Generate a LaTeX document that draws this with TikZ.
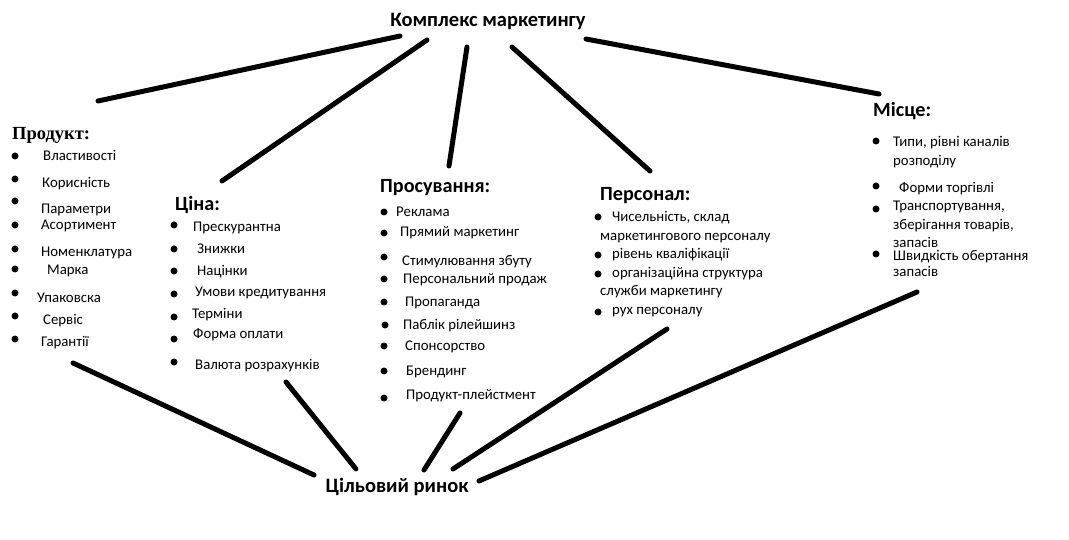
\documentclass[tikz,border=0pt]{standalone}
\usepackage{fontspec}
\setmainfont{Carlito}
\newfontfamily\timesbold{Liberation Serif}[BoldFont={Liberation Serif Bold}]
\usepackage{tikz}
\usetikzlibrary{positioning}

\begin{document}
\begin{tikzpicture}[x=1pt, y=-1pt,
  title/.style={font=\fontsize{20.5}{24}\selectfont\bfseries, inner sep=0, text height=14pt, text depth=5pt},
  head/.style={anchor=west, font=\fontsize{20.2}{24}\selectfont\bfseries, inner sep=0, text height=14pt, text depth=5pt},
  item/.style={anchor=west, font=\fontsize{14.8}{18}\selectfont, inner sep=0, text height=10pt, text depth=3pt},
  dot/.style={circle, fill=black, inner sep=0, minimum size=7pt},
  link/.style={line width=5pt, line cap=round}
]
\useasboundingbox (0,0) rectangle (1069,540);

\node[title] (mix) at (488,22) {Комплекс маркетингу};
\node[title] (market) at (397,488) {Цільовий ринок};

% Продукт
\node[head, font=\timesbold\fontsize{18.5}{22}\selectfont\bfseries] (prod) at (12,135) {Продукт:};
\node[dot] (pd1) at (15,156) {};
\node[item] (p1) at (43,157) {Властивості};
\node[dot] (pd2) at (15,179) {};
\node[item] (p2) at (42,184) {Корисність};
\node[dot] (pd3) at (15,201) {};
\node[item] (p3) at (41,210) {Параметри};
\node[dot] (pd4) at (15,225) {};
\node[item] (p4) at (41,226) {Асортимент};
\node[dot] (pd5) at (15,249) {};
\node[item] (p5) at (41,253) {Номенклатура};
\node[dot] (pd6) at (15,269) {};
\node[item] (p6) at (47,271) {Марка};
\node[dot] (pd7) at (15,293) {};
\node[item] (p7) at (37,299) {Упаковска};
\node[dot] (pd8) at (15,316) {};
\node[item] (p8) at (43,321) {Сервіс};
\node[dot] (pd9) at (15,339) {};
\node[item] (p9) at (41,343) {Гарантії};

% Ціна
\node[head] (price) at (175,206) {Ціна:};
\node[dot] (cd1) at (174,225) {};
\node[item] (c1) at (193,228) {Прескурантна};
\node[dot] (cd2) at (174,249) {};
\node[item] (c2) at (197,250) {Знижки};
\node[dot] (cd3) at (174,271) {};
\node[item] (c3) at (197,272) {Націнки};
\node[dot] (cd4) at (174,294) {};
\node[item] (c4) at (195,293) {Умови кредитування};
\node[dot] (cd5) at (174,317) {};
\node[item] (c5) at (192,315) {Терміни};
\node[dot] (cd6) at (174,339) {};
\node[item] (c6) at (193,335) {Форма оплати};
\node[dot] (cd7) at (174,362) {};
\node[item] (c7) at (195,366) {Валюта розрахунків};

% Просування
\node[head] (promo) at (380,188) {Просування:};
\node[dot] (sd1) at (384,212) {};
\node[item] (s1) at (396,213) {Реклама};
\node[dot] (sd2) at (384,233) {};
\node[item] (s2) at (400,233) {Прямий маркетинг};
\node[dot] (sd3) at (384,257) {};
\node[item] (s3) at (402,262) {Стимулювання збуту};
\node[dot] (sd4) at (384,279) {};
\node[item] (s4) at (403,280) {Персональний продаж};
\node[dot] (sd5) at (384,302) {};
\node[item] (s5) at (405,303) {Пропаганда};
\node[dot] (sd6) at (385,325) {};
\node[item] (s6) at (403,326) {Паблік рілейшинз};
\node[dot] (sd7) at (384,346) {};
\node[item] (s7) at (405,347) {Спонсорство};
\node[dot] (sd8) at (384,371) {};
\node[item] (s8) at (406,372) {Брендинг};
\node[dot] (sd9) at (384,398) {};
\node[item] (s9) at (406,396) {Продукт-плейстмент};

% Персонал
\node[head] (staff) at (600,196) {Персонал:};
\node[dot] (rd1) at (598,217) {};
\node[item] (r1) at (612,218) {Чисельність, склад};
\node[item] (r1b) at (600,237) {маркетингового персоналу};
\node[dot] (rd2) at (598,255) {};
\node[item] (r2) at (612,255) {рівень кваліфікації};
\node[dot] (rd3) at (598,274) {};
\node[item] (r3) at (612,274) {організаційна структура};
\node[item] (r3b) at (600,292) {служби маркетингу};
\node[dot] (rd4) at (598,312) {};
\node[item] (r4) at (612,311) {рух персоналу};

% Місце
\node[head] (place) at (873,112) {Місце:};
\node[dot] (md1) at (876,141) {};
\node[item] (m1) at (893,143) {Типи, рівні каналів};
\node[item] (m1b) at (893,162) {розподілу};
\node[dot] (md2) at (876,186) {};
\node[item] (m2) at (899,189) {Форми торгівлі};
\node[dot] (md3) at (876,209) {};
\node[item] (m3) at (893,207) {Транспортування,};
\node[item] (m3b) at (893,226) {зберігання товарів,};
\node[item] (m3c) at (893,244) {запасів};
\node[dot] (md4) at (876,254) {};
\node[item] (m4) at (893,257) {Швидкість обертання};
\node[item] (m4b) at (893,273) {запасів};

\coordinate (t1) at (400,36);  \coordinate (h1) at (98,101);
\coordinate (t2) at (427,40);  \coordinate (h2) at (222,181);
\coordinate (t3) at (467,47);  \coordinate (h3) at (449,166);
\coordinate (t4) at (512,47);  \coordinate (h4) at (650,171);
\coordinate (t5) at (586,39);  \coordinate (h5) at (879,94);
\coordinate (f1) at (73,363);  \coordinate (b1) at (314,475);
\coordinate (f2) at (286,382); \coordinate (b2) at (356,469);
\coordinate (f3) at (460,413); \coordinate (b3) at (424,470);
\coordinate (f4) at (667,329); \coordinate (b4) at (453,469);
\coordinate (f5) at (917,292); \coordinate (b5) at (479,481);

\draw[link] (t1) -- (h1);
\draw[link] (t2) -- (h2);
\draw[link] (t3) -- (h3);
\draw[link] (t4) -- (h4);
\draw[link] (t5) -- (h5);
\draw[link] (f1) -- (b1);
\draw[link] (f2) -- (b2);
\draw[link] (f3) -- (b3);
\draw[link] (f4) -- (b4);
\draw[link] (f5) -- (b5);

\end{tikzpicture}
\end{document}
